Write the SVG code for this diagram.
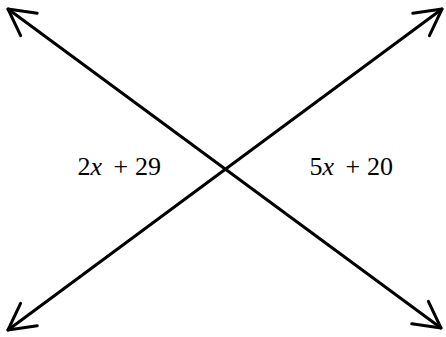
<svg xmlns="http://www.w3.org/2000/svg" width="446" height="337" viewBox="0 0 446 337">
<style>
.ln{stroke:#000;stroke-width:3;fill:none;stroke-linecap:round}
.lbl{font-family:"Liberation Serif","Times New Roman",serif;font-size:26px;fill:#000}
.v{font-style:italic}
</style>
<defs>
<marker id="arr" markerUnits="userSpaceOnUse" markerWidth="40" markerHeight="40" refX="0" refY="0" viewBox="-30 -20 40 40" orient="auto-start-reverse" overflow="visible">
<path d="M-26,-14 L0,0 L-26,14" fill="none" stroke="#000" stroke-width="3" stroke-linecap="round" stroke-linejoin="round"/>
</marker>
</defs>
<rect width="446" height="337" fill="#fff"/>
<g id="connectors">
<line class="ln" x1="8" y1="9" x2="441" y2="328" marker-start="url(#arr)" marker-end="url(#arr)"/>
<line class="ln" x1="8" y1="330" x2="442" y2="9" marker-start="url(#arr)" marker-end="url(#arr)"/>
</g>
<g id="label-left">
<text class="lbl" y="175"><tspan x="77.5">2</tspan><tspan class="v">x</tspan><tspan x="113.5">+</tspan><tspan x="135">29</tspan></text>
</g>
<g id="label-right">
<text class="lbl" y="175"><tspan x="309.5">5</tspan><tspan class="v">x</tspan><tspan x="345.5">+</tspan><tspan x="367">20</tspan></text>
</g>
</svg>
